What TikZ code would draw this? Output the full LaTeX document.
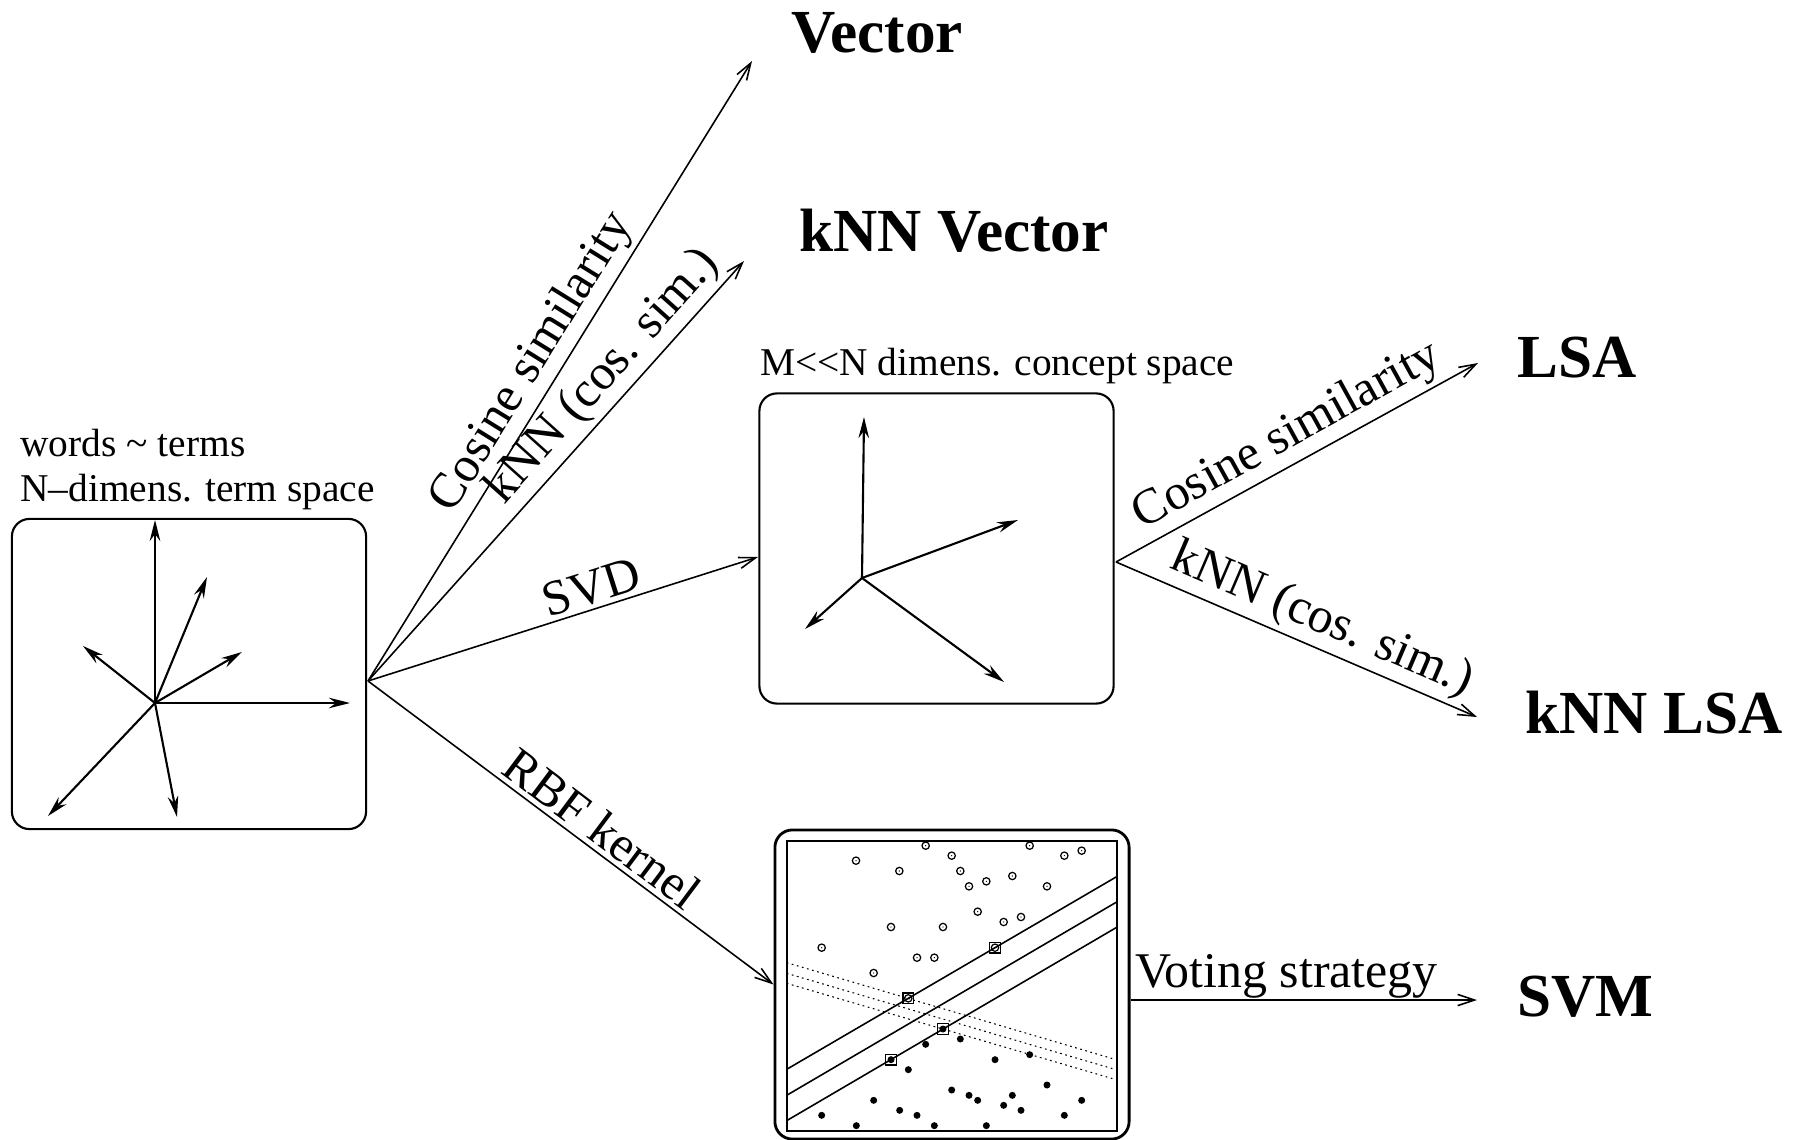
\documentclass[tikz,border=0pt]{standalone}
\usepackage{fontspec}
\setmainfont{Liberation Serif}
\usetikzlibrary{arrows.meta,positioning}

\begin{document}
\begin{tikzpicture}[
  x=0.01cm, y=-0.01cm,
  spacebox/.style={draw, rounded corners=5pt, line width=0.6pt,
    minimum width=3.54cm, minimum height=3.1cm, inner sep=0pt},
  caption/.style={font=\fontsize{11.2}{12.8}\selectfont, inner sep=0pt, align=left},
  result/.style={font=\fontsize{17.4}{20}\selectfont\bfseries, inner sep=0pt, anchor=base west},
  lab/.style={font=\fontsize{14.2}{16}\selectfont, sloped, above, inner sep=1.2pt},
  arr/.style={-{Straight Barb[length=4.8pt,width=3.2pt]}, line width=0.45pt},
  vec/.style={-{Stealth[length=6pt,width=3pt,inset=2pt]}, line width=0.6pt}
]
\useasboundingbox (0,0) rectangle (1794,1140);

\node[spacebox] (termbox) at (189,674) {};
\node[spacebox] (conceptbox) at (936.5,548.5) {};
\node[spacebox, line width=0.8pt, minimum height=3.09cm] (svmbox) at (952,984.5) {};

\node[caption, above right=0.74mm and 0.9mm of termbox.north west] (termcap)
  {words \textasciitilde{} terms\\N--dimens. term space};
\node[caption, above right=0.74mm and 0.1mm of conceptbox.north west] (conceptcap)
  {M{<}{<}N dimens. concept space};

\coordinate (torig) at (155,703);
\foreach \dx/\dy in {0/-183, 52/-126, 87/-51, 195/0, -72/-57, -107/113, 22/114}
  \draw[vec] (torig) -- ++(\dx,\dy);

\coordinate (corig) at (862,578);
\foreach \dx/\dy in {2/-161, 156/-58, -57/51, 142/104}
  \draw[vec] (corig) -- ++(\dx,\dy);

\begin{scope}[shift={(770,820)}, scale=1/3]
  \draw[line width=0.5pt] (50,62) rectangle (1040,932);
  \foreach \px/\py in {258/122, 388/153, 467/77, 545/107, 571/153, 597/199, 649/184,
      727/168, 779/77, 831/199, 883/107, 935/92, 623/275, 701/306, 753/291, 363/321,
      519/321, 155/383, 441/413, 493/413, 311/459, 675/383, 415/535}
    {\draw[line width=0.35pt] (\px,\py) circle[radius=11];
     \fill (\px,\py) circle[radius=2];}
  \foreach \px/\py in {519/627, 363/719, 467/673, 571/657, 675/719, 779/704, 415/749,
      831/795, 545/810, 597/826, 623/841, 727/826, 311/841, 935/841, 701/856, 753/871,
      389/871, 155/886, 441/886, 883/886, 259/917, 493/917, 649/917}
    \fill (\px,\py) circle[radius=10.5];
  \foreach \px/\py in {675/383, 415/535, 519/627, 363/719}
    \draw[line width=0.4pt] (\px,\py) ++(-16,-16) rectangle ++(32,32);
  \draw[line width=0.45pt] (50,748) -- (1040,170);
  \draw[line width=0.45pt] (50,826) -- (1040,246);
  \draw[line width=0.45pt] (50,902) -- (1040,322);
  \draw[line width=0.3pt, dash pattern=on 0.5pt off 1pt] (50,428) -- (1035,718);
  \draw[line width=0.3pt, dash pattern=on 0.5pt off 1pt] (50,460) -- (1035,748);
  \draw[line width=0.3pt, dash pattern=on 0.5pt off 1pt] (50,490) -- (1035,778);
\end{scope}

\node[result] (vector) at (791,53) {Vector};
\node[result] (knnvector) at (799,252) {kNN Vector};
\node[result] (lsa) at (1517,378) {LSA};
\node[result] (knnlsa) at (1525,733) {kNN LSA};
\node[result] (svm) at (1517,1016) {SVM};

\coordinate (tout) at (368,681);
\coordinate (cout) at (1116,562);
\coordinate (vector-tip) at (752,61);
\coordinate (knnvector-tip) at (744,261);
\coordinate (svd-tip) at (758,557);
\coordinate (lsa-tip) at (1478,363);
\coordinate (knnlsa-tip) at (1477,717);
\coordinate (vote-tip) at (1477,1000);

\draw[arr] (tout) -- node[lab, pos=0.49] {Cosine similarity} (vector-tip);
\draw[arr] (tout) -- node[lab, pos=0.68] {kNN (cos. sim.)} (knnvector-tip);
\draw[arr] (tout) -- node[lab, pos=0.59] {SVD} (svd-tip);
\draw[arr] (tout) -- node[lab, pos=0.545] {RBF kernel} (svmbox.west);
\draw[arr] (cout) -- node[lab, pos=0.51] {Cosine similarity} (lsa-tip);
\draw[arr] (cout) -- node[lab, pos=0.54] {kNN (cos. sim.)} (knnlsa-tip);
\draw[arr] (svmbox.east |- vote-tip) -- node[lab, pos=0.45, inner sep=0.3pt] {Voting strategy} (vote-tip);
\end{tikzpicture}
\end{document}
